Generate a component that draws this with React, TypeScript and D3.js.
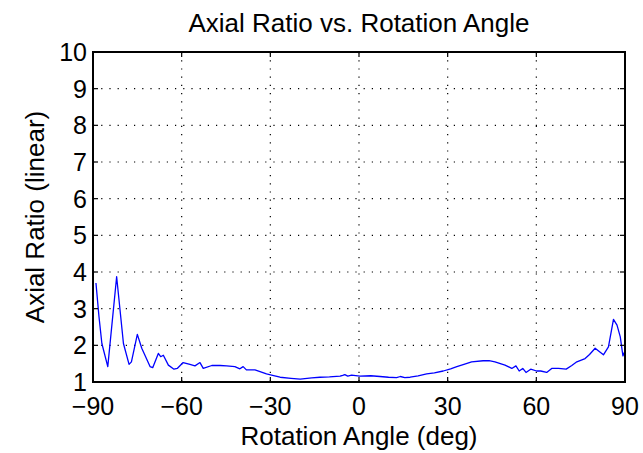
import React from "react";
import * as d3 from "d3";

const angles = [
  -89, -88, -87, -85, -82, -79.7, -77.8, -77, -75, -73.5, -70.7, -69.8, -67.9, -67.1, -66.2,
  -64.5, -62.6, -61.5, -59.5, -57.2, -55.5, -53.8, -52.7, -49.8, -47, -44.8, -42, -40.3,
  -39.2, -38.1, -35.2, -33, -31.3, -28.5, -26.7, -23, -19.9, -16, -13.2, -10, -6.4, -5.5,
  -4.8, -3.8, -2.5, 0.3, 4, 7.1, 10, 12.7, 14, 15.5, 17.3, 20, 22.9, 25.5, 28.5, 31, 33.1,
  35.5, 38.1, 42, 44, 46, 49.4, 51.7, 53.1, 54.2, 55.4, 56.5, 58.1, 60.1, 61.5, 63.5, 65.2,
  67.5, 70.1, 72, 73.7, 76.5, 78, 79.9, 81.5, 82.7, 84.4, 86.1, 87.3, 88.4, 89.3, 90,
];
const axialRatio = [
  3.7, 2.8, 2.05, 1.42, 3.87, 2.05, 1.48, 1.55, 2.3, 1.92, 1.42, 1.39, 1.78, 1.69, 1.73,
  1.46, 1.35, 1.37, 1.53, 1.48, 1.44, 1.53, 1.37, 1.45, 1.45, 1.44, 1.42, 1.36,
  1.42, 1.33, 1.33, 1.27, 1.22, 1.17, 1.13, 1.1, 1.08, 1.11, 1.13, 1.14, 1.16, 1.18,
  1.2, 1.16, 1.19, 1.16, 1.17, 1.15, 1.13, 1.12, 1.15, 1.12, 1.13, 1.17, 1.22, 1.25, 1.3, 1.36, 1.42,
  1.48, 1.55, 1.58, 1.58, 1.55, 1.46, 1.37, 1.44, 1.3, 1.37, 1.26, 1.35, 1.3, 1.3, 1.26, 1.37,
  1.37, 1.35, 1.45, 1.55, 1.64, 1.75, 1.92, 1.82, 1.74, 1.96, 2.71, 2.55, 2.23, 1.71, 1.85,
];
const xTicks = [-90, -60, -30, 0, 30, 60, 90];
const yTicks = [1, 2, 3, 4, 5, 6, 7, 8, 9, 10];
const titleText = "Axial Ratio vs. Rotation Angle";
const xLabel = "Rotation Angle (deg)";
const yLabel = "Axial Ratio (linear)";

const W = 643;
const H = 453;
const L = 93, R = 625, T = 52, B = 382;
const FONT = "'Liberation Sans', Arial, Helvetica, sans-serif";

export default function App() {
  const x = d3.scaleLinear().domain([-90, 90]).range([L, R]);
  const y = d3.scaleLinear().domain([1, 10]).range([B, T]);
  const pts: [number, number][] = angles.map((a, i) => [a, axialRatio[i]]);
  const line = d3
    .line<[number, number]>()
    .x((d) => x(d[0]))
    .y((d) => y(d[1]));
  const tick = 5;
  return (
    <svg
      width={W}
      height={H}
      style={{ position: "absolute", left: 0, top: 0, background: "#fff" }}
      fontFamily={FONT}
    >
      <rect x={0} y={0} width={W} height={H} fill="#fff" />
      {/* grid */}
      {xTicks.slice(1, -1).map((t) => (
        <line key={"gx" + t} x1={x(t)} x2={x(t)} y1={T} y2={B} stroke="#000" strokeWidth={1.2} strokeDasharray="1.2 7" />
      ))}
      {yTicks.slice(1, -1).map((t) => (
        <line key={"gy" + t} x1={L} x2={R} y1={y(t)} y2={y(t)} stroke="#000" strokeWidth={1.2} strokeDasharray="1.2 7" />
      ))}
      {/* data */}
      <path d={line(pts) || ""} fill="none" stroke="#0000ff" strokeWidth={1.3} strokeLinejoin="round" />
      {/* ticks */}
      {xTicks.map((t) => (
        <g key={"tx" + t}>
          <line x1={x(t)} x2={x(t)} y1={B} y2={B - tick} stroke="#000" strokeWidth={1.2} />
          <line x1={x(t)} x2={x(t)} y1={T} y2={T + tick} stroke="#000" strokeWidth={1.2} />
          <text x={x(t)} y={415} textAnchor="middle" fontSize={25} fill="#000">
            {t < 0 ? "\u2212" + Math.abs(t) : String(t)}
          </text>
        </g>
      ))}
      {yTicks.map((t) => (
        <g key={"ty" + t}>
          <line x1={L} x2={L + tick} y1={y(t)} y2={y(t)} stroke="#000" strokeWidth={1.2} />
          <line x1={R} x2={R - tick} y1={y(t)} y2={y(t)} stroke="#000" strokeWidth={1.2} />
          <text x={L - 6} y={y(t)} dy="0.36em" textAnchor="end" fontSize={25} fill="#000">
            {t}
          </text>
        </g>
      ))}
      {/* box */}
      <rect x={L} y={T} width={R - L} height={B - T} fill="none" stroke="#000" strokeWidth={2} />
      {/* labels */}
      <text x={(L + R) / 2} y={32} textAnchor="middle" fontSize={26} fill="#000">
        {titleText}
      </text>
      <text x={(L + R) / 2} y={445} textAnchor="middle" fontSize={26} fill="#000">
        {xLabel}
      </text>
      <text
        transform={`translate(44, ${(T + B) / 2}) rotate(-90)`}
        textAnchor="middle"
        fontSize={26}
        fill="#000"
      >
        {yLabel}
      </text>
    </svg>
  );
}
